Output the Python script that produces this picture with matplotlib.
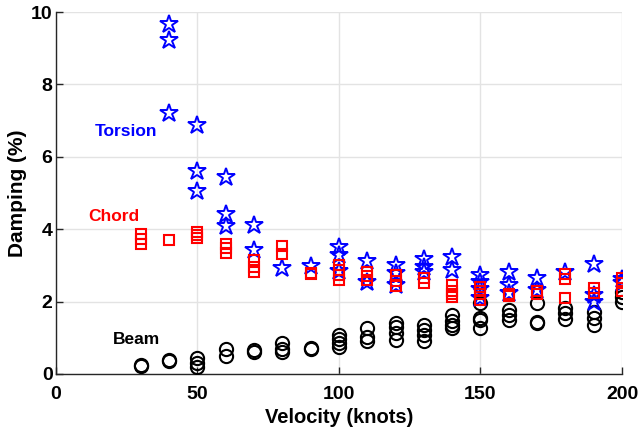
import numpy as np
import matplotlib
matplotlib.use("Agg")
import matplotlib.pyplot as plt

plt.rcParams['font.family'] = ['Liberation Sans', 'DejaVu Sans']
plt.rcParams['font.weight'] = 'bold'

# Beam-mode damping (%) vs. velocity (knots)
beam_v = [30, 30, 40, 40, 50, 50, 50, 60, 60, 70, 70, 80, 80, 80, 90, 90,
          100, 100, 100, 100, 110, 110, 110, 120, 120, 120, 120,
          130, 130, 130, 130, 140, 140, 140, 140, 150, 150, 150, 150,
          160, 160, 160, 170, 170, 170, 180, 180, 180, 190, 190, 190,
          200, 200, 200]
beam_d = [0.25, 0.22, 0.40, 0.35, 0.45, 0.30, 0.20, 0.68, 0.50, 0.65, 0.60,
          0.85, 0.68, 0.62, 0.72, 0.68,
          1.08, 0.97, 0.86, 0.75, 1.27, 1.03, 0.90, 1.42, 1.30, 1.13, 0.93,
          1.35, 1.22, 1.08, 0.90, 1.62, 1.45, 1.35, 1.27, 1.96, 1.55, 1.50, 1.27,
          1.77, 1.63, 1.49, 1.96, 1.44, 1.42, 1.82, 1.68, 1.52, 1.71, 1.55, 1.35,
          2.27, 2.13, 2.00]

# Chord-mode damping (%)
chord_v = [30, 30, 30, 40, 50, 50, 50, 60, 60, 60, 70, 70, 70, 80, 80, 90, 90,
           100, 100, 100, 100, 110, 110, 110, 120, 120, 120, 130, 130,
           140, 140, 140, 140, 150, 150, 150, 150, 160, 160, 170, 170,
           180, 180, 180, 190, 190, 200, 200, 200]
chord_d = [3.88, 3.72, 3.58, 3.70, 3.92, 3.84, 3.76, 3.60, 3.48, 3.34,
           3.15, 2.96, 2.82, 3.53, 3.32, 2.76, 2.80,
           3.00, 2.87, 2.73, 2.60, 2.82, 2.71, 2.60, 2.73, 2.58, 2.42, 2.65, 2.52,
           2.45, 2.30, 2.20, 2.12, 2.40, 2.30, 2.20, 2.05, 2.22, 2.15, 2.30, 2.22,
           2.75, 2.62, 2.10, 2.37, 2.25, 2.65, 2.50, 2.30]

# Torsion-mode damping (%)
tors_v = [40, 40, 40, 50, 50, 50, 60, 60, 60, 70, 70, 80, 90,
          100, 100, 100, 110, 110, 120, 120, 120, 130, 130, 130, 140, 140,
          150, 150, 150, 150, 160, 160, 160, 170, 170, 180, 190, 190, 190,
          200, 200]
tors_d = [9.67, 9.22, 7.20, 6.88, 5.62, 5.05, 5.45, 4.42, 4.10, 4.12, 3.42,
          2.93, 2.98,
          3.50, 3.30, 2.85, 3.12, 2.55, 3.00, 2.80, 2.45, 3.18, 2.95, 2.82,
          3.22, 2.86, 2.73, 2.53, 2.35, 2.10, 2.82, 2.45, 2.23, 2.64, 2.32,
          2.82, 3.04, 2.18, 2.00, 2.62, 2.50]

fig = plt.figure(figsize=(6.39, 4.37), dpi=100)
ax = fig.add_axes([0.0876, 0.1442, 0.8858, 0.8283])

ax.plot(beam_v, beam_d, linestyle='none', marker='o', ms=9.5,
        mfc='none', mec='black', mew=1.5, zorder=3)
ax.plot(tors_v, tors_d, linestyle='none', marker='*', ms=13.5,
        mfc='none', mec='blue', mew=1.4, zorder=4)
ax.plot(chord_v, chord_d, linestyle='none', marker='s', ms=7.5,
        mfc='none', mec='red', mew=1.5, zorder=5)

ax.text(13.8, 6.7, 'Torsion', color='blue', fontsize=12.5, fontweight='bold',
        va='center', ha='left')
ax.text(11.3, 4.36, 'Chord', color='red', fontsize=12.5, fontweight='bold',
        va='center', ha='left')
ax.text(20, 0.95, 'Beam', color='black', fontsize=12.5, fontweight='bold',
        va='center', ha='left')

ax.set_xlim(0, 200)
ax.set_ylim(0, 10)
ax.set_xticks([0, 50, 100, 150, 200])
ax.set_yticks([0, 2, 4, 6, 8, 10])
ax.grid(True, color='#e3e3e3', linewidth=1.0, zorder=0)
ax.set_axisbelow(True)
for s in ['top', 'right']:
    ax.spines[s].set_visible(False)
for s in ['left', 'bottom']:
    ax.spines[s].set_color('#262626')
    ax.spines[s].set_linewidth(1.0)
ax.tick_params(direction='in', length=5, width=1.0, color='#262626',
               labelsize=14)
ax.tick_params(axis='x', pad=9)
ax.tick_params(axis='y', pad=2.5)
for lbl in ax.get_xticklabels() + ax.get_yticklabels():
    lbl.set_fontweight('bold')

ax.set_xlabel('Velocity (knots)', fontsize=14.5, fontweight='bold', labelpad=3)
ax.set_ylabel('Damping (%)', fontsize=15, fontweight='bold', labelpad=3)

fig.savefig('out.png', dpi=100)
